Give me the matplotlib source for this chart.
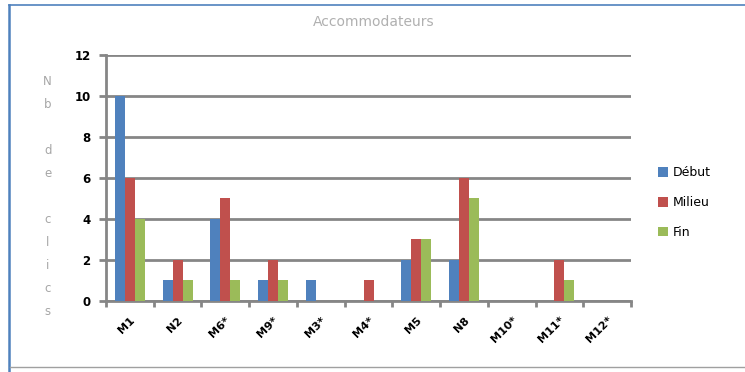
import numpy as np
import matplotlib.pyplot as plt
from matplotlib.lines import Line2D

# Données
categories = ["M1", "N2", "M6*", "M9*", "M3*", "M4*", "M5", "N8", "M10*", "M11*", "M12*"]
debut = [10, 1, 4, 1, 1, 0, 2, 2, 0, 0, 0]
milieu = [6, 2, 5, 2, 0, 1, 3, 6, 0, 2, 0]
fin = [4, 1, 1, 1, 0, 0, 3, 5, 0, 1, 0]
series_names = ["Début", "Milieu", "Fin"]
colors = ["#4F81BD", "#C0504D", "#9BBB59"]

fig = plt.figure(figsize=(7.45, 3.72), dpi=100)
ax = fig.add_axes([0.1423, 0.191, 0.7047, 0.661])

x = np.arange(len(categories))
w = 0.21
for i, (vals, name, c) in enumerate(zip([debut, milieu, fin], series_names, colors)):
    ax.bar(x + (i - 1) * w, vals, width=w, color=c, label=name, zorder=3)

ax.set_xlim(-0.5, len(categories) - 0.5)
ax.set_ylim(0, 12)
ax.set_yticks(range(0, 13, 2))
ax.grid(axis="y", color="#868686", linewidth=2.0, zorder=1)

for s in ["top", "right"]:
    ax.spines[s].set_visible(False)
for s in ["left", "bottom"]:
    ax.spines[s].set_color("#868686")
    ax.spines[s].set_linewidth(2.0)

# ticks de l'axe x entre les catégories
ax.set_xticks(np.arange(-0.5, len(categories), 1.0))
ax.set_xticklabels([])
ax.set_xticks(x, minor=True)
ax.set_xticklabels(categories, minor=True, rotation=45, ha="right", va="top",
                   rotation_mode="anchor", fontsize=8, fontweight="bold")
ax.tick_params(axis="x", which="minor", length=0, pad=10)
ax.tick_params(axis="x", which="major", length=4, width=2, color="#868686")
ax.tick_params(axis="y", length=5, width=2, color="#868686", labelsize=8.5, pad=6)
for lbl in ax.get_yticklabels():
    lbl.set_fontweight("bold")

fig.text(0.502, 0.94, "Accommodateurs", ha="center", va="center",
         fontsize=10, color="#B0B0B0")
fig.text(0.064, 0.473, "N\nb\n\nd\ne\n\nc\nl\ni\nc\ns", ha="center", va="center",
         fontsize=8.5, color="#A6A6A6", linespacing=2.0)

ax.legend(loc="center left", bbox_to_anchor=(1.03, 0.40), frameon=False,
          fontsize=9, handlelength=0.8, handleheight=0.8, labelspacing=1.35,
          handletextpad=0.4)

# cadre : bord bleu en haut et à gauche, trait gris en bas
fig.add_artist(Line2D([0.012, 1.0], [0.986, 0.986], transform=fig.transFigure,
                      color="#4F81BD", linewidth=1.2))
fig.add_artist(Line2D([0.012, 0.012], [0.986, 0.0], transform=fig.transFigure,
                      color="#4F81BD", linewidth=1.8))
fig.add_artist(Line2D([0.013, 1.0], [0.013, 0.013], transform=fig.transFigure,
                      color="#A0A0A0", linewidth=1.0))

fig.savefig("out.png", dpi=100)
